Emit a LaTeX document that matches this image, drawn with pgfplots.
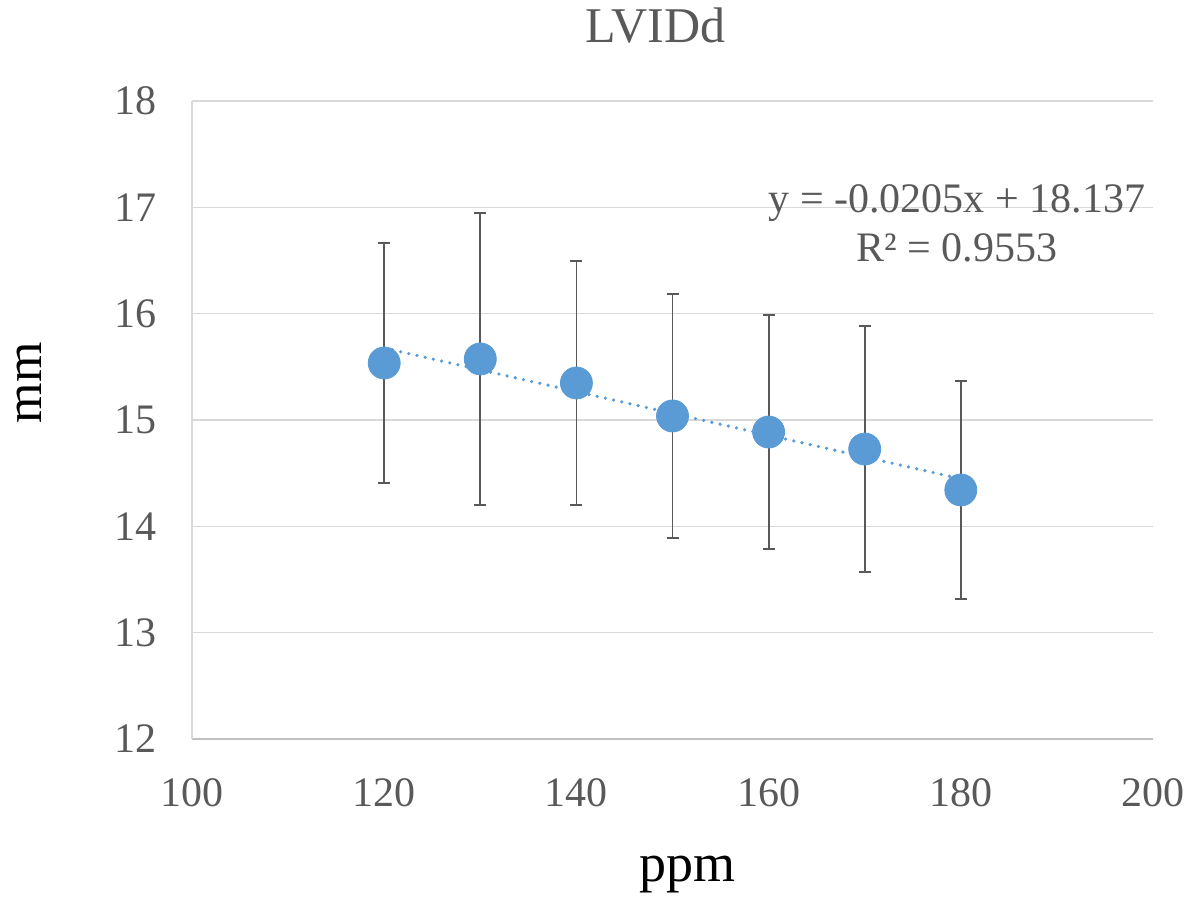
\documentclass[border=0pt]{standalone}
\usepackage{fontspec}
\setmainfont{Liberation Serif}
\usepackage{pgfplots}
\pgfplotsset{compat=1.18}
\definecolor{txtgray}{HTML}{595959}
\definecolor{gridgray}{HTML}{D9D9D9}
\definecolor{axgray}{HTML}{BFBFBF}
\definecolor{ptblue}{HTML}{5B9BD5}
\definecolor{errgray}{HTML}{595959}
\begin{document}
\begin{tikzpicture}
\path[use as bounding box] (-96pt,-83.5pt) rectangle (500.5pt,369.5pt);
\begin{axis}[
  at={(0,0)}, anchor=south west,
  scale only axis, width=480.5pt, height=319pt,
  xmin=100, xmax=200, ymin=12, ymax=18,
  xtick={100,120,...,200}, ytick={12,13,...,18},
  axis x line*=bottom, axis y line*=left,
  x axis line style={draw=axgray, line width=0.8pt, -},
  y axis line style={draw=gridgray, line width=0.8pt, -},
  ymajorgrids, grid style={draw=gridgray, line width=0.8pt},
  major tick length=0pt,
  /pgf/number format/assume math mode=true,
  tick label style={font=\fontsize{21}{25}\selectfont, text=txtgray, inner sep=0pt},
  yticklabel style={anchor=east, xshift=-17.5pt},
  xticklabel style={anchor=center, yshift=-27pt},
  title={LVIDd},
  title style={at={(axis description cs:0.482,1)}, anchor=center, yshift=31.5pt, font=\fontsize{25}{29}\selectfont, text=txtgray, inner sep=0pt},
  xlabel={ppm},
  xlabel style={at={(axis description cs:0.516,0)}, anchor=base, yshift=-71pt, font=\fontsize{27}{32}\selectfont, inner sep=0pt},
  ylabel={mm},
  ylabel style={at={(axis description cs:-0.1561,0.558)}, anchor=base, font=\fontsize{26}{31}\selectfont, inner sep=0pt},
  clip=false,
]
\addplot[ptblue, line width=1.8pt, dash pattern=on 0pt off 4.2pt, line cap=round, forget plot]
  coordinates {(120,15.677) (180,14.447)};
\addplot[only marks, mark=*, mark size=8pt, mark options={fill=ptblue, draw=ptblue},
  error bars/.cd, y dir=both, y explicit,
  error bar style={errgray, line width=0.9pt},
  error mark options={errgray, line width=0.9pt, mark size=3pt, rotate=90}]
  coordinates {
  (120,15.536) +- (0,1.13)
  (130,15.574) +- (0,1.37)
  (140,15.348) +- (0,1.145)
  (150,15.038) +- (0,1.145)
  (160,14.887) +- (0,1.10)
  (170,14.727) +- (0,1.16)
  (180,14.342) +- (0,1.025)
  };
\node[anchor=base, text=txtgray, font=\fontsize{21}{25}\selectfont, inner sep=0pt] at (axis cs:179.6,16.947) {y = -0.0205x + 18.137};
\node[anchor=base, text=txtgray, font=\fontsize{21}{25}\selectfont, inner sep=0pt] at (axis cs:179.6,16.486) {R² = 0.9553};
\end{axis}
\end{tikzpicture}
\end{document}
